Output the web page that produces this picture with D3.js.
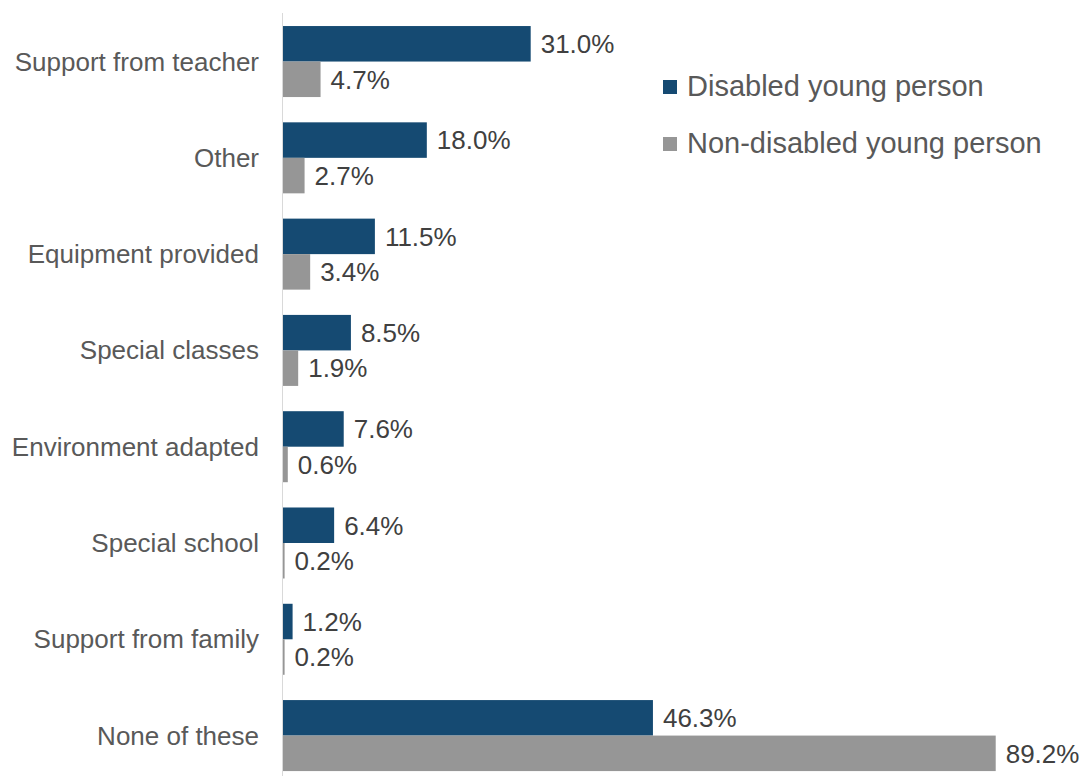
<!DOCTYPE html>
<html>
<head>
<meta charset="utf-8">
<script src="https://cdn.jsdelivr.net/npm/d3@7"></script>
<style>
  html, body { margin: 0; padding: 0; background: #ffffff; }
  svg { display: block; font-family: Arial, "Liberation Sans", sans-serif; }
</style>
</head>
<body>
<svg id="chart" width="1082" height="776"></svg>
<script>
// Support received at school, by disability status (% of young people)
const categories = [
  "Support from teacher",
  "Other",
  "Equipment provided",
  "Special classes",
  "Environment adapted",
  "Special school",
  "Support from family",
  "None of these"
];
const seriesNames = ["Disabled young person", "Non-disabled young person"];
const disabled    = [31.0, 18.0, 11.5, 8.5, 7.6, 6.4, 1.2, 46.3];
const nonDisabled = [4.7, 2.7, 3.4, 1.9, 0.6, 0.2, 0.2, 89.2];
const colors = ["#154a72", "#969696"];

const rows = categories.map((c, i) => ({ category: c, values: [disabled[i], nonDisabled[i]] }));

const svg = d3.select("#chart");
const x0 = 283;

const x = d3.scaleLinear().domain([0, 100]).range([x0, x0 + 799]);
const y = d3.scaleBand().domain(categories).range([13.4, 13.4 + 8 * 96.29]).paddingInner(0.2626).paddingOuter(0.1313);
const ySub = d3.scaleBand().domain([0, 1]).range([0, y.bandwidth()]);

// bars
const groups = svg.append("g").selectAll("g").data(rows).join("g")
  .attr("transform", d => `translate(0,${y(d.category)})`);

groups.selectAll("rect").data(d => d.values).join("rect")
  .attr("x", x0)
  .attr("y", (v, j) => ySub(j))
  .attr("width", v => x(v) - x0)
  .attr("height", ySub.bandwidth())
  .attr("fill", (v, j) => colors[j]);

// value labels
groups.selectAll("text").data(d => d.values).join("text")
  .attr("x", v => x(v) + 10)
  .attr("y", (v, j) => ySub(j) + ySub.bandwidth() / 2 + 9.3)
  .attr("font-size", 26)
  .attr("fill", "#404040")
  .text(v => v.toFixed(1) + "%");

// category axis
const axis = svg.append("g").attr("transform", `translate(${x0},0)`)
  .call(d3.axisLeft(y).tickSize(0).tickPadding(24));
axis.select(".domain").remove();
axis.selectAll("text")
  .attr("font-size", 26)
  .attr("fill", "#595959")
  .attr("dy", null)
  .attr("dominant-baseline", "central")
  .attr("font-family", "Arial, 'Liberation Sans', sans-serif");
svg.append("line")
  .attr("x1", x0 - 0.5).attr("x2", x0 - 0.5)
  .attr("y1", 13).attr("y2", 776)
  .attr("stroke", "#d9d9d9").attr("stroke-width", 1);

// legend
const legend = svg.append("g").selectAll("g").data(seriesNames).join("g")
  .attr("transform", (d, i) => `translate(663,${80 + i * 57})`);
legend.append("rect").attr("width", 14).attr("height", 14).attr("fill", (d, i) => colors[i]);
legend.append("text")
  .attr("x", 24).attr("y", 15.5)
  .attr("font-size", 29)
  .attr("fill", "#595959")
  .text(d => d);
</script>
</body>
</html>
